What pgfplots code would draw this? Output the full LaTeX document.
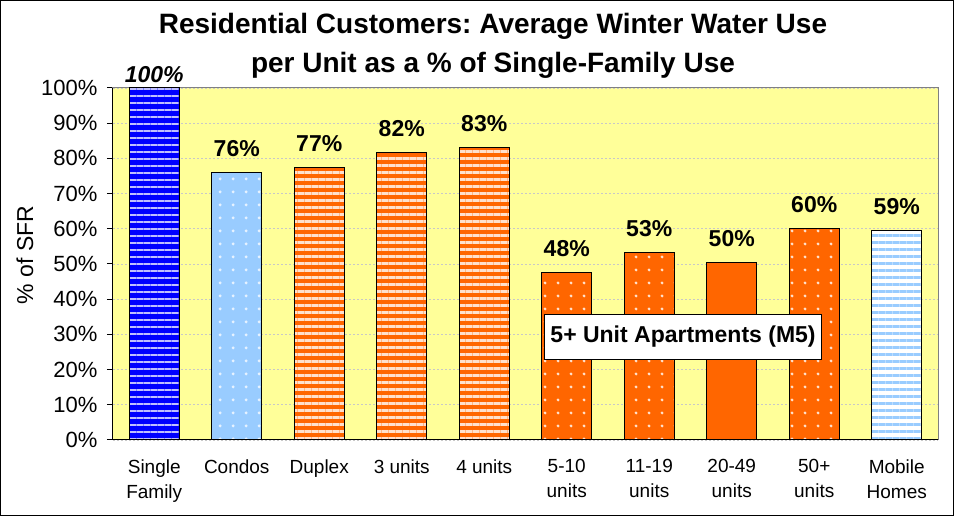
\documentclass[border=0pt]{standalone}
\usepackage{fontspec}
\setmainfont{Liberation Sans}
\usepackage{pgfplots}
\pgfplotsset{compat=1.18}
\usetikzlibrary{patterns.meta}
\definecolor{plotyellow}{HTML}{FFFF99}
\definecolor{sfblue}{HTML}{0000FF}
\definecolor{ltblue}{HTML}{99CCFF}
\definecolor{orng}{HTML}{FF6600}
\definecolor{gridgray}{HTML}{C8C8C8}
\frenchspacing
\pgfplotsset{
  barbase/.style={ybar, bar width=50pt, bar shift=0pt, draw=black, line width=1pt},
  barpat/.style={ybar, bar width=50pt, bar shift=0pt, draw=black, line width=1pt, fill=none},
}
\begin{document}
\begin{tikzpicture}[x=1pt,y=1pt]
\fill[white] (0,0) rectangle (954,516);
\draw[black, line width=1.2pt] (0.6,0.6) rectangle (953.4,515.4);
\node[align=center, font=\bfseries\fontsize{28}{39}\selectfont] at (493,470.5)
  {Residential Customers: Average Winter Water Use\\per Unit as a \% of Single-Family Use};
\node[rotate=90, font=\fontsize{23}{23}\selectfont] at (25,261) {\% of SFR};
\begin{axis}[
  at={(113pt,76pt)}, anchor=south west,
  scale only axis, width=825pt, height=352pt,
  xmin=-0.5, xmax=9.5, ymin=0, ymax=100,
  axis background/.style={fill=plotyellow},
  axis line style={draw=gray, line width=1pt},
  ytick={0,10,...,100},
  yticklabels={0\%,10\%,20\%,30\%,40\%,50\%,60\%,70\%,80\%,90\%,100\%},
  yticklabel style={font=\fontsize{22}{22}\selectfont, xshift=-6pt},
  ymajorgrids, grid style={draw=gridgray, line width=0.7pt, dash pattern=on 2pt off 2pt},
  ytick pos=left, xtick pos=bottom,
  tick align=outside, major tick length=6pt,
  tick style={black, line width=1pt, solid},
  xtick={0,...,9},
  xticklabels={Single\\Family, Condos, Duplex, 3 units, 4 units, 5-10\\units, 11-19\\units, 20-49\\units, 50+\\units, Mobile\\Homes},
  xticklabel style={font=\fontsize{19}{25}\selectfont, align=center, anchor=north, yshift=-10pt},
  x tick style={draw=none},
  extra x ticks={-0.5,0.5,...,9.5},
  extra x tick labels={},
  extra x tick style={grid=none, tick style={draw=black, line width=1pt, solid}},
  clip=false,
]
% Single Family
\addplot[barbase, fill=sfblue] coordinates {(0,100)};
\addplot[barpat, pattern={Lines[distance=7pt,line width=2.5pt]}, pattern color=white!75!sfblue] coordinates {(0,100)};
% Condos
\addplot[barbase, fill=ltblue] coordinates {(1,76.1)};
\addplot[barpat, pattern={Dots[distance=13pt,radius=1.7pt]}, pattern color=white!75!ltblue] coordinates {(1,76.1)};
% Duplex, 3 units, 4 units
\addplot[barbase, fill=orng] coordinates {(2,77.3) (3,81.8) (4,83.0)};
\addplot[barpat, pattern={Lines[distance=7pt,line width=3pt]}, pattern color=white!80!orng] coordinates {(2,77.3) (3,81.8) (4,83.0)};
% 5-10, 11-19, 20-49, 50+
\addplot[barbase, fill=orng] coordinates {(5,47.7) (6,53.4) (7,50.3) (8,60.2)};
\addplot[barpat, pattern={Dots[distance=13pt,radius=1.7pt]}, pattern color=white!80!orng] coordinates {(5,47.7) (6,53.4) (8,60.2)};
% Mobile Homes
\addplot[barbase, fill=white] coordinates {(9,59.4)};
\addplot[barpat, pattern={Lines[distance=7pt,line width=3pt]}, pattern color=ltblue] coordinates {(9,59.4)};
% black axis lines
\draw[black, line width=1pt] (rel axis cs:0,1) -- (rel axis cs:0,0) -- (rel axis cs:1,0);
% value labels
\addplot[draw=none, nodes near coords, point meta=explicit symbolic,
  every node near coord/.style={font=\bfseries\fontsize{23}{23}\selectfont, anchor=base, yshift=16pt}]
  coordinates {(1,76.1)[76\%] (2,77.3)[77\%] (3,81.8)[82\%] (4,83.0)[83\%] (5,47.7)[48\%] (6,53.4)[53\%] (7,50.3)[50\%] (8,60.2)[60\%] (9,59.4)[59\%]};
\addplot[draw=none, nodes near coords, point meta=explicit symbolic,
  every node near coord/.style={font=\bfseries\itshape\fontsize{23}{23}\selectfont, anchor=base, yshift=5pt}]
  coordinates {(0,100)[100\%]};
\node[draw=black, fill=white, line width=1pt, font=\bfseries\fontsize{23}{23}\selectfont, inner xsep=6pt, minimum height=45pt] at (axis cs:6.41,29.3) {5+ Unit Apartments (M5)};
\end{axis}
\end{tikzpicture}
\end{document}
